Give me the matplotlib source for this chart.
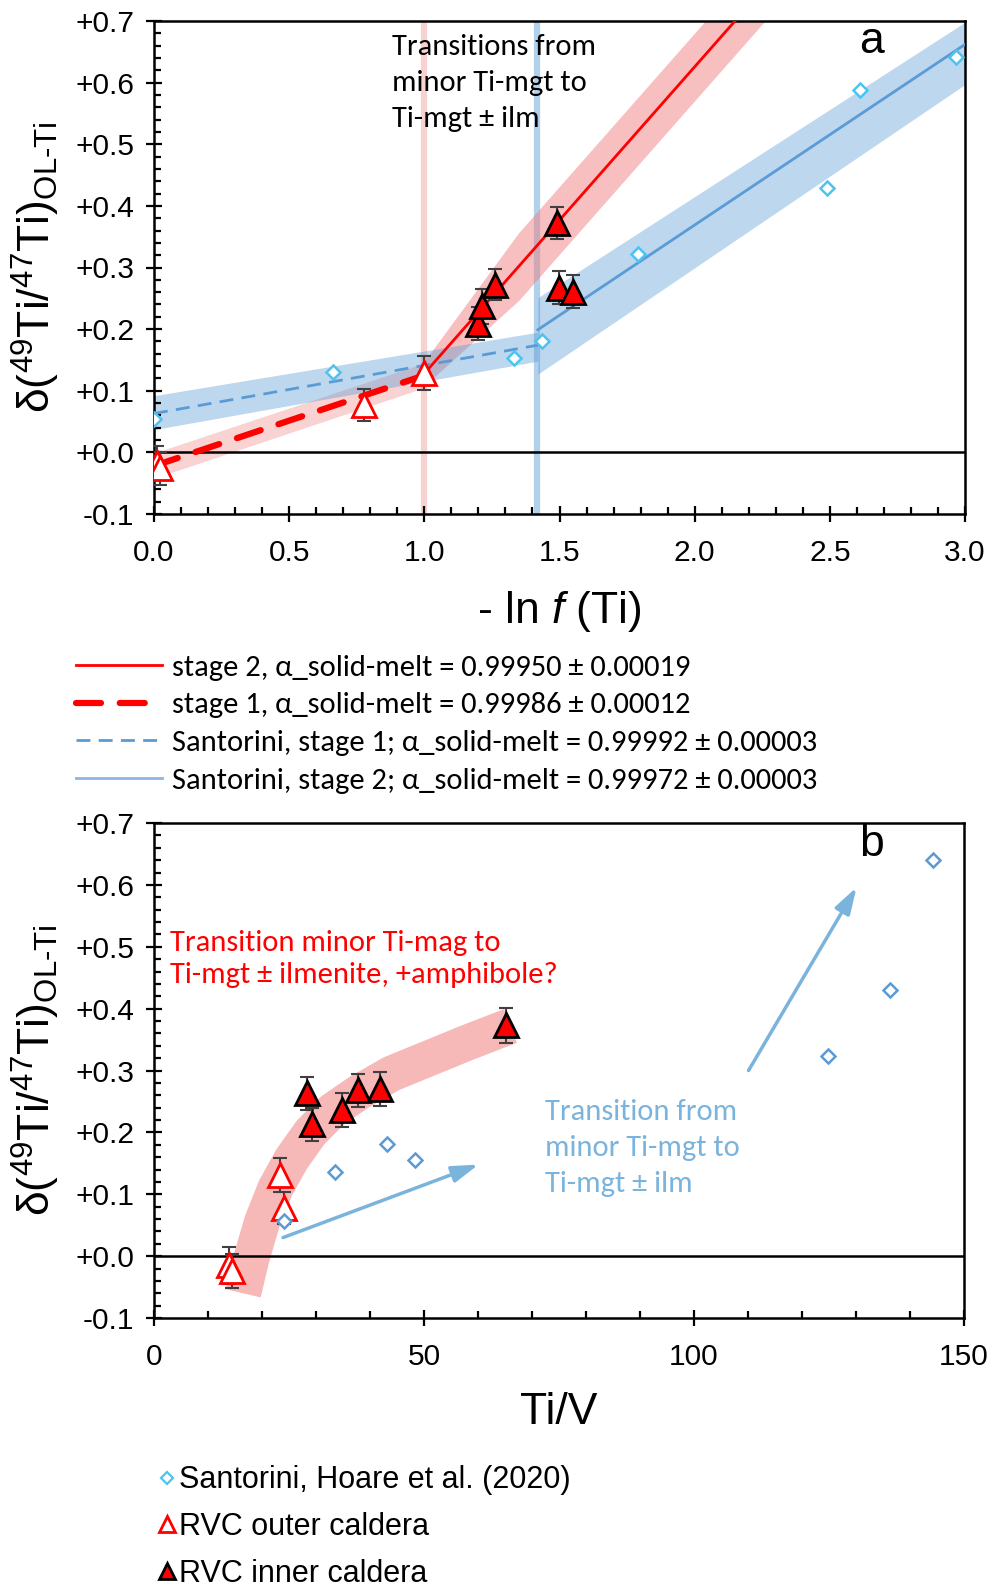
import matplotlib
matplotlib.use('Agg')
import matplotlib.pyplot as plt
from matplotlib.lines import Line2D
from matplotlib.ticker import MultipleLocator, FuncFormatter, FormatStrFormatter

plt.rcParams['font.family'] = ['Liberation Sans', 'DejaVu Sans']
plt.rcParams['mathtext.fontset'] = 'custom'
plt.rcParams['mathtext.rm'] = 'Liberation Sans'
plt.rcParams['mathtext.it'] = 'Liberation Sans:italic'
plt.rcParams['mathtext.bf'] = 'Liberation Sans:bold'

NOTE_FONT = ['Carlito', 'Lato', 'DejaVu Sans']

# ---- panel a: -ln f(Ti)
san_lnf = [0.0, 0.663, 1.33, 1.434, 1.79, 2.49, 2.61, 2.967]
san_d = [0.054, 0.130, 0.153, 0.180, 0.322, 0.429, 0.588, 0.642]

out_lnf = [0.01, 0.022, 0.777, 0.999]
out_d = [-0.017, -0.026, 0.077, 0.129]
out_err = [0.028, 0.027, 0.026, 0.027]

inn_lnf = [1.20, 1.212, 1.262, 1.49, 1.498, 1.551]
inn_d = [0.209, 0.237, 0.272, 0.372, 0.267, 0.261]
inn_err = [0.027, 0.028, 0.025, 0.026, 0.027, 0.027]

# model lines + uncertainty envelopes
red1_x = [0.0, 1.0]
red1_y = [-0.022, 0.125]
red1_lo = [-0.042, 0.105]
red1_hi = [-0.001, 0.145]

red2_x = [1.0, 2.3]
red2_y = [0.128, 0.775]
red2_bx = [1.0, 1.35, 2.3]
red2_lo = [0.108, 0.247, 0.72]
red2_hi = [0.148, 0.357, 0.83]

blue1_x = [0.0, 1.42]
blue1_y = [0.063, 0.174]
blue1_lo = [0.037, 0.148]
blue1_hi = [0.092, 0.195]

blue2_x = [1.42, 3.0]
blue2_y = [0.199, 0.662]
blue2_lo = [0.127, 0.597]
blue2_hi = [0.251, 0.698]

trans_red = 1.0
trans_blue = 1.415

# ---- panel b: Ti/V
san_tiv = [24.1, 33.5, 43.1, 48.3, 124.9, 136.3, 144.3]
san_tiv_d = [0.056, 0.136, 0.182, 0.155, 0.324, 0.430, 0.640]

out_tiv = [13.8, 14.4, 23.3, 24.1]
out_tiv_d = [-0.015, -0.024, 0.131, 0.078]
out_tiv_err = [0.030, 0.027, 0.027, 0.026]

inn_tiv = [28.3, 29.3, 34.8, 37.7, 41.9, 65.2]
inn_tiv_d = [0.263, 0.213, 0.236, 0.268, 0.270, 0.373]
inn_tiv_err = [0.027, 0.027, 0.027, 0.027, 0.028, 0.028]

# hand-drawn trend band (centre line)
trend_tiv = [16.5, 18, 20, 22.5, 25.5, 29, 33, 38, 44, 51, 58, 66]
trend_d = [-0.06, -0.005, 0.055, 0.11, 0.157, 0.2, 0.235, 0.265, 0.295, 0.32, 0.345, 0.372]

arrow1 = [(23.9, 0.030), (60.1, 0.148)]
arrow2 = [(110.1, 0.300), (130.1, 0.596)]

legend_lines = ['stage 2, α_solid-melt = 0.99950 ± 0.00019',
                'stage 1, α_solid-melt = 0.99986 ± 0.00012',
                'Santorini, stage 1; α_solid-melt = 0.99992 ± 0.00003',
                'Santorini, stage 2; α_solid-melt = 0.99972 ± 0.00003']
legend_pts = ['Santorini, Hoare et al. (2020)', 'RVC outer caldera', 'RVC inner caldera']

RED = '#ff0000'
BLUE = '#5b9bd5'
CYAN = '#4dc3f0'
ARROW = '#7ab3dc'
ERR = '#404040'


def style_axis(ax):
    ax.set_ylim(-0.1, 0.7)
    ax.yaxis.set_major_locator(MultipleLocator(0.1))
    ax.yaxis.set_minor_locator(MultipleLocator(0.02))
    ax.yaxis.set_major_formatter(FuncFormatter(
        lambda v, p: ('-' if v < -1e-9 else '+') + '%.1f' % abs(v)))
    ax.tick_params(which='major', direction='inout', length=12, width=1.6,
                   labelsize=21.5, pad=8)
    ax.tick_params(which='minor', direction='in', length=5, width=1.6)
    ax.tick_params(axis='x', which='major', pad=12)
    for s in ax.spines.values():
        s.set_linewidth(1.8)
    ax.axhline(0, color='black', lw=1.8, zorder=2)
    ax.set_ylabel(r'δ($^{49}$Ti/$^{47}$Ti)$_{\mathrm{OL\text{-}Ti}}$', fontsize=32)
    ax.yaxis.set_label_coords(-0.113, 0.5)


fig = plt.figure(figsize=(9.94, 15.91), dpi=100)
ax1 = fig.add_axes([154 / 994, 1 - 514 / 1591, 811 / 994, 493 / 1591])
ax2 = fig.add_axes([154 / 994, 1 - 1318 / 1591, 810 / 994, 495 / 1591])

# ---------------- panel a
style_axis(ax1)
ax1.set_xlim(0, 3.0)
ax1.xaxis.set_major_locator(MultipleLocator(0.5))
ax1.xaxis.set_minor_locator(MultipleLocator(0.1))
ax1.xaxis.set_major_formatter(FormatStrFormatter('%.1f'))

ax1.axvline(trans_red, color='#f7c6c6', lw=4.5, alpha=0.8, zorder=1)
ax1.axvline(trans_blue, color='#a8cbea', lw=4.5, alpha=0.9, zorder=1)

ax1.fill_between(red1_x, red1_lo, red1_hi, color='#f08080', alpha=0.35, lw=0, zorder=1)
ax1.fill_between(red2_bx, red2_lo, red2_hi, color='#f08080', alpha=0.5, lw=0, zorder=1)
ax1.fill_between(blue1_x, blue1_lo, blue1_hi, color=BLUE, alpha=0.4, lw=0, zorder=1)
ax1.fill_between(blue2_x, blue2_lo, blue2_hi, color=BLUE, alpha=0.4, lw=0, zorder=1)

l_red2, = ax1.plot(red2_x, red2_y, color=RED, lw=2.0, zorder=3)
l_red1, = ax1.plot(red1_x, red1_y, color=RED, lw=4.5, dashes=(4, 3),
                   dash_capstyle='round', zorder=3)
l_blue1, = ax1.plot(blue1_x, blue1_y, color=BLUE, lw=2.0, dashes=(5, 3), zorder=3)
l_blue2, = ax1.plot(blue2_x, blue2_y, color=BLUE, lw=2.0, zorder=3)

ax1.plot(san_lnf, san_d, 'D', ms=7.5, mfc='white', mec=CYAN, mew=1.8, zorder=6)
ax1.errorbar(out_lnf, out_d, yerr=out_err, fmt='none', ecolor=ERR, elinewidth=1.5,
             capsize=4.8, capthick=1.5, zorder=4)
ax1.errorbar(inn_lnf, inn_d, yerr=inn_err, fmt='none', ecolor=ERR, elinewidth=1.5,
             capsize=4.8, capthick=1.5, zorder=4)
ax1.plot(out_lnf, out_d, '^', ms=17, mfc='white', mec=RED, mew=2, zorder=5)
ax1.plot(inn_lnf, inn_d, '^', ms=17, mfc=RED, mec='black', mew=2, zorder=5)

ax1.set_xlabel(r'- ln $f$ (Ti)', fontsize=32)
ax1.xaxis.set_label_coords(0.5, -0.152)
ax1.text(0.879, 0.60, 'Transitions from\nminor Ti-mgt to\nTi-mgt ± ilm',
         family=NOTE_FONT, fontsize=22, va='center', ha='left', linespacing=1.48, zorder=7)
ax1.text(2.655, 0.666, 'a', fontsize=32, ha='center', va='center', zorder=7)

h_blue2 = Line2D([], [], color='#8db4e2', lw=2.0)
fig.legend([l_red2, l_red1, l_blue1, h_blue2], legend_lines, loc='center left',
           bbox_to_anchor=(76 / 994, 1 - 724 / 1591), frameon=False,
           prop={'family': NOTE_FONT, 'size': 22}, handlelength=2.81,
           handletextpad=0.34, labelspacing=0.37, borderpad=0, borderaxespad=0)

# ---------------- panel b
style_axis(ax2)
ax2.set_xlim(0, 150)
ax2.xaxis.set_major_locator(MultipleLocator(50))
ax2.xaxis.set_minor_locator(MultipleLocator(10))
ax2.xaxis.set_major_formatter(FormatStrFormatter('%d'))

ax2.plot(trend_tiv, trend_d, color='#f7b8b8', lw=26, solid_capstyle='butt',
         solid_joinstyle='round', zorder=1)

for (x0, y0), (x1, y1) in [arrow1, arrow2]:
    ax2.annotate('', xy=(x1, y1), xytext=(x0, y0),
                 arrowprops=dict(arrowstyle='-|>,head_length=0.8,head_width=0.25',
                                 color=ARROW, lw=2.5, shrinkA=0, shrinkB=0,
                                 mutation_scale=20), zorder=3)

ax2.plot(san_tiv, san_tiv_d, 'D', ms=7.5, mfc='white', mec=BLUE, mew=1.8, zorder=6)
ax2.errorbar(out_tiv, out_tiv_d, yerr=out_tiv_err, fmt='none', ecolor=ERR, elinewidth=1.5,
             capsize=4.8, capthick=1.5, zorder=4)
ax2.errorbar(inn_tiv, inn_tiv_d, yerr=inn_tiv_err, fmt='none', ecolor=ERR, elinewidth=1.5,
             capsize=4.8, capthick=1.5, zorder=4)
ax2.plot(out_tiv, out_tiv_d, '^', ms=17, mfc='white', mec=RED, mew=2, zorder=5)
ax2.plot(inn_tiv, inn_tiv_d, '^', ms=17, mfc=RED, mec='black', mew=2, zorder=5)

ax2.set_xlabel('Ti/V', fontsize=32)
ax2.xaxis.set_label_coords(0.5, -0.15)
ax2.text(3.0, 0.48, 'Transition minor Ti-mag to\nTi-mgt ± ilmenite, +amphibole?',
         family=NOTE_FONT, fontsize=22, color=RED, va='center', ha='left',
         linespacing=1.3, zorder=7)
ax2.text(72.4, 0.1745, 'Transition from\nminor Ti-mgt to\nTi-mgt ± ilm',
         family=NOTE_FONT, fontsize=22, color=ARROW, va='center', ha='left',
         linespacing=1.48, zorder=7)
ax2.text(132.9, 0.665, 'b', fontsize=32, ha='center', va='center', zorder=7)

h_pts = [Line2D([], [], ls='none', marker='D', ms=6.5, mfc='white', mec=CYAN, mew=1.6),
         Line2D([], [], ls='none', marker='^', ms=12, mfc='white', mec=RED, mew=2),
         Line2D([], [], ls='none', marker='^', ms=12, mfc=RED, mec='black', mew=2)]
fig.legend(h_pts, legend_pts, loc='center left', bbox_to_anchor=(158 / 994, 1 - 1527 / 1591),
           frameon=False, fontsize=22, handlelength=0.6, handletextpad=0.1,
           labelspacing=0.55, borderpad=0, borderaxespad=0)

fig.savefig('out.png', dpi=100)
